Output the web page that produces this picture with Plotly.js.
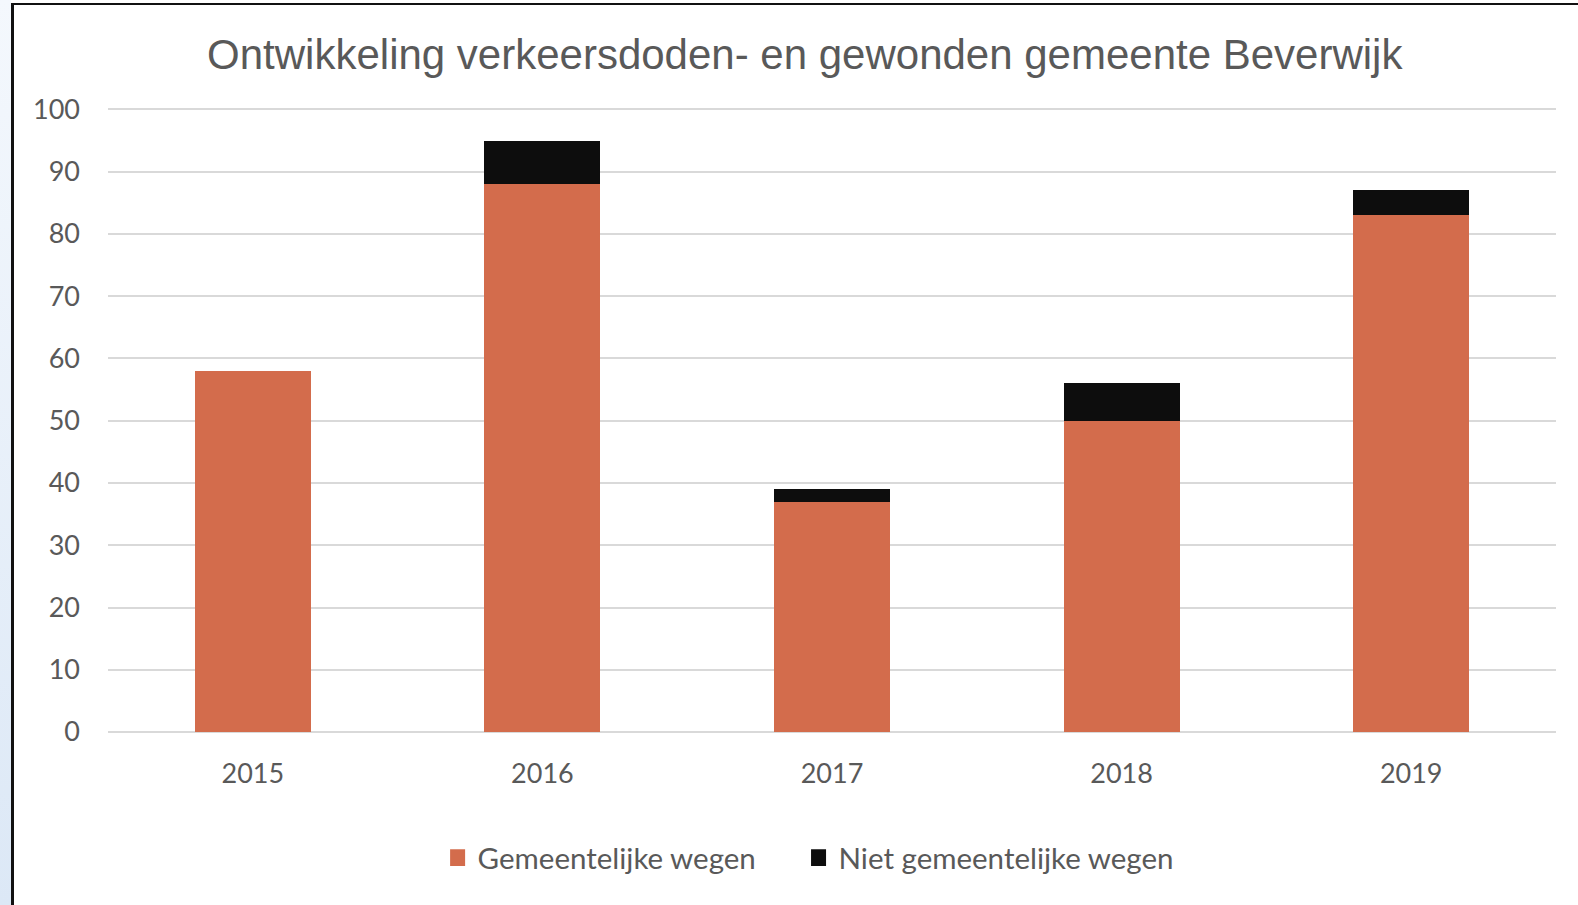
<!DOCTYPE html>
<html>
<head>
<meta charset="utf-8">
<script src="https://cdn.plot.ly/plotly-3.0.1.min.js"></script>
<style>
  body { margin: 0; background: #fff; overflow: hidden; }
  #chart { position: absolute; left: 0; top: 0; width: 1578px; height: 905px; }
  .strip { position: absolute; left: 0; top: 0; width: 11px; height: 905px;
           background: linear-gradient(#f4f8fd, #dce8f6); pointer-events: none; }
  .frameTop { position: absolute; left: 11px; top: 3px; width: 1567px; height: 2px; background: #111; pointer-events: none; }
  .frameLeft { position: absolute; left: 11px; top: 3px; width: 3px; height: 902px; background: #111; pointer-events: none; }
</style>
</head>
<body>
<div id="chart"></div>
<div class="strip"></div>
<div class="frameTop"></div>
<div class="frameLeft"></div>
<script>
let years = ['2015', '2016', '2017', '2018', '2019'];
let gemeentelijk = [58, 88, 37, 50, 83];
let nietGemeentelijk = [0, 7, 2, 6, 4];

let trace1 = {
  x: years,
  y: gemeentelijk,
  // trailing nbsp widens the gap between the two legend entries
  name: 'Gemeentelijke wegen\u00a0\u00a0\u00a0\u00a0\u00a0',
  type: 'bar',
  marker: { color: '#d36c4c' },
  hoverinfo: 'y'
};

let trace2 = {
  x: years,
  y: nietGemeentelijk,
  name: 'Niet gemeentelijke wegen',
  type: 'bar',
  marker: { color: '#0d0d0d' },
  hoverinfo: 'y'
};

let layout = {
  width: 1578,
  height: 905,
  barmode: 'stack',
  bargap: 0.6,
  paper_bgcolor: 'rgba(0,0,0,0)',
  plot_bgcolor: 'rgba(0,0,0,0)',
  margin: { l: 108, r: 22, t: 107, b: 173 },
  title: {
    text: 'Ontwikkeling verkeersdoden- en gewonden gemeente Beverwijk',
    font: { family: 'Liberation Sans, Arial, sans-serif', size: 42, color: '#595959' },
    x: 0.51, xanchor: 'center',
    y: 1 - 54 / 905, yanchor: 'middle'
  },
  font: { family: 'Lato, sans-serif', size: 27, color: '#595959' },
  xaxis: {
    showgrid: false,
    showline: false,
    ticklabelstandoff: 23
  },
  yaxis: {
    range: [0, 100.4],
    dtick: 10,
    gridcolor: '#d9d9d9',
    gridwidth: 2,
    zeroline: true,
    zerolinecolor: '#d9d9d9',
    zerolinewidth: 2,
    ticklabelstandoff: 27
  },
  showlegend: true,
  legend: {
    orientation: 'h',
    x: 0.4835, xanchor: 'center',
    y: -0.2016, yanchor: 'middle',
    font: { size: 29.5 },
    traceorder: 'normal'
  }
};

Plotly.newPlot('chart', [trace1, trace2], layout, { displayModeBar: false }).then(function (gd) {
  // legend squares in the original are a bit bigger and taller
  gd.querySelectorAll('.legendpoints path').forEach(function (p) {
    let t = p.getAttribute('transform') || '';
    p.setAttribute('transform', t + ' scale(1.25,1.4)');
  });
});
</script>
</body>
</html>
